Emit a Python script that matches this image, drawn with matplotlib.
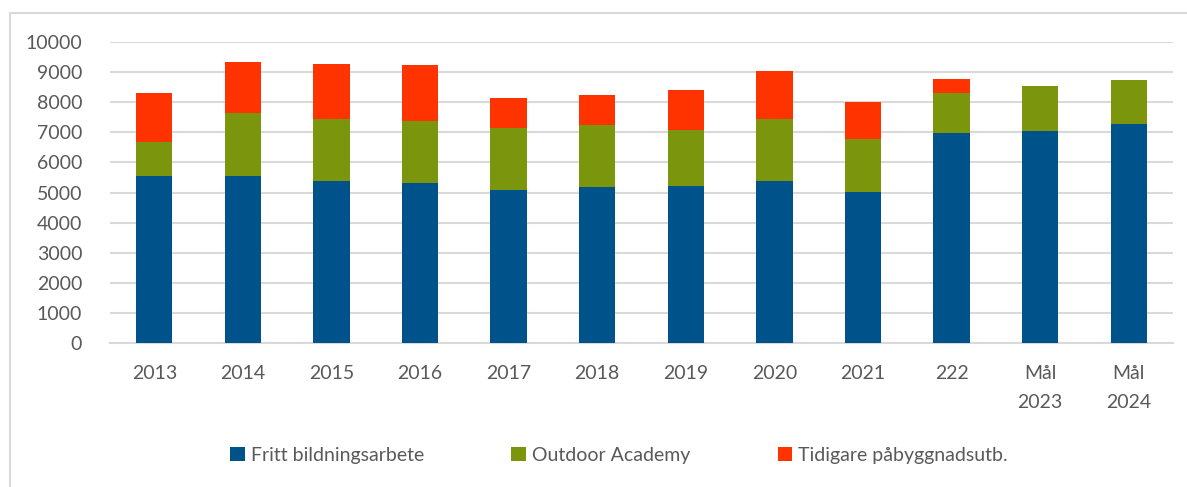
import numpy as np
import matplotlib.pyplot as plt
from matplotlib.patches import Rectangle

plt.rcParams['font.family'] = ['Lato', 'DejaVu Sans']

categories = ['2013', '2014', '2015', '2016', '2017', '2018', '2019', '2020',
              '2021', '222', 'Mål\n2023', 'Mål\n2024']
fritt = [5540, 5560, 5380, 5320, 5080, 5190, 5230, 5380, 5020, 6990, 7050, 7280]
outdoor = [1150, 2070, 2070, 2070, 2070, 2060, 1850, 2070, 1770, 1310, 1480, 1450]
tidigare = [1630, 1690, 1830, 1840, 1000, 1000, 1320, 1580, 1220, 460, 0, 0]
series_names = ['Fritt bildningsarbete', 'Outdoor Academy', 'Tidigare påbyggnadsutb.']
colors = ['#00538A', '#7B960C', '#FF3300']

fig = plt.figure(figsize=(11.87, 4.87), dpi=100)
ax = fig.add_axes([110 / 1187, 1 - 343 / 487, 1063 / 1187, 301 / 487])

x = np.arange(len(categories))
w = 0.41
b1 = ax.bar(x, fritt, w, color=colors[0], label=series_names[0], zorder=3)
b2 = ax.bar(x, outdoor, w, bottom=fritt, color=colors[1], label=series_names[1], zorder=3)
bottom2 = np.array(fritt) + np.array(outdoor)
b3 = ax.bar(x, tidigare, w, bottom=bottom2, color=colors[2], label=series_names[2], zorder=3)

ax.set_xlim(-0.5, len(categories) - 0.5)
ax.set_ylim(0, 10000)
ax.set_yticks(np.arange(0, 10001, 1000))
ax.set_xticks(x)
ax.set_xticklabels(categories, linespacing=1.85)
ax.yaxis.grid(True, color='#D9D9D9', linewidth=1.5, zorder=0)
for s in ['top', 'right', 'left']:
    ax.spines[s].set_visible(False)
ax.spines['bottom'].set_color('#D9D9D9')
ax.spines['bottom'].set_linewidth(1.5)
ax.tick_params(axis='both', length=0, labelsize=14, colors='#595959')
ax.tick_params(axis='x', pad=16)
ax.tick_params(axis='y', pad=20)

leg = fig.legend(handles=[b1, b2, b3], loc='center', bbox_to_anchor=(619 / 1187, 1 - 455 / 487),
                 ncol=3, frameon=False, fontsize=14, handlelength=0.75, handleheight=0.75,
                 handletextpad=0.3, columnspacing=4.5)
for t in leg.get_texts():
    t.set_color('#595959')

# chart frame
fig.patches.append(Rectangle((10 / 1187, -0.1), 1.2, 1 - 13 / 487 + 0.1, transform=fig.transFigure,
                             fill=False, edgecolor='#D9D9D9', linewidth=1.5))

fig.savefig('out.png', dpi=100)
